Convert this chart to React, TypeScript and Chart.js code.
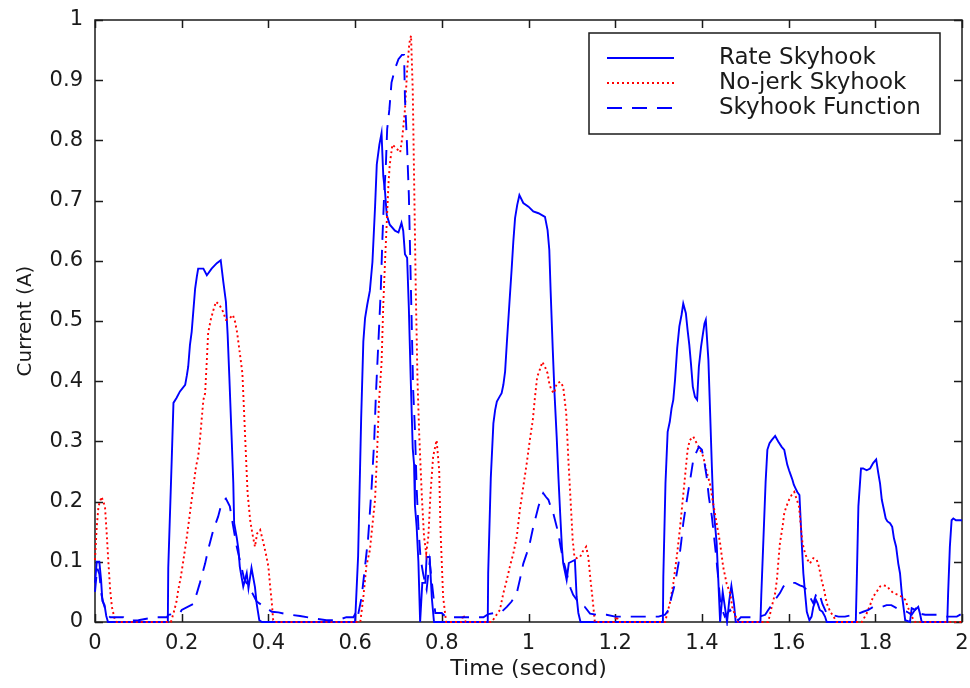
import React, { useEffect, useRef } from 'react';
import { Chart, registerables } from 'chart.js';

Chart.register(...registerables);

// ---- data: [time (s), current (A)] ----
const rateSkyhook: [number, number][] = [
  [0, 0.065], [0.004, 0.1], [0.01, 0.1], [0.014, 0.07], [0.017, 0.035], [0.022, 0.028], [0.026, 0.01], [0.03, 0],
  [0.168, 0], [0.169, 0.09], [0.177, 0.27], [0.181, 0.364], [0.188, 0.372], [0.196, 0.383], [0.208, 0.394],
  [0.212, 0.41], [0.215, 0.424], [0.219, 0.46], [0.223, 0.482], [0.227, 0.518], [0.231, 0.554], [0.235, 0.574],
  [0.238, 0.587], [0.25, 0.587], [0.258, 0.576], [0.269, 0.587], [0.281, 0.596], [0.29, 0.601], [0.296, 0.565],
  [0.302, 0.532], [0.306, 0.477], [0.31, 0.405], [0.315, 0.31], [0.319, 0.231], [0.321, 0.164], [0.327, 0.14],
  [0.331, 0.12], [0.334, 0.092], [0.338, 0.075], [0.342, 0.059], [0.35, 0.081], [0.354, 0.056], [0.361, 0.09],
  [0.369, 0.058], [0.373, 0.03], [0.379, 0.003], [0.385, 0],
  [0.6, 0], [0.607, 0.11], [0.614, 0.339], [0.619, 0.466], [0.623, 0.505], [0.628, 0.527], [0.634, 0.55],
  [0.64, 0.598], [0.646, 0.689], [0.65, 0.76], [0.656, 0.793], [0.661, 0.812], [0.665, 0.741], [0.669, 0.715],
  [0.673, 0.676], [0.68, 0.66], [0.692, 0.65], [0.7, 0.647], [0.707, 0.663], [0.711, 0.65], [0.715, 0.611],
  [0.72, 0.605], [0.724, 0.521], [0.728, 0.411], [0.733, 0.288], [0.736, 0.262], [0.738, 0.194], [0.742, 0.158],
  [0.746, 0.1], [0.75, 0], [0.755, 0.065], [0.762, 0.065], [0.765, 0.108], [0.772, 0.108], [0.777, 0.04], [0.782, 0],
  [0.906, 0], [0.907, 0.081], [0.913, 0.239], [0.919, 0.33], [0.923, 0.352], [0.927, 0.366], [0.933, 0.374],
  [0.938, 0.38], [0.942, 0.394], [0.946, 0.416], [0.95, 0.463], [0.956, 0.53], [0.961, 0.585], [0.965, 0.632],
  [0.969, 0.671], [0.974, 0.693], [0.979, 0.709], [0.988, 0.696], [1.0, 0.69], [1.011, 0.682], [1.023, 0.679],
  [1.038, 0.673], [1.044, 0.651], [1.048, 0.618], [1.051, 0.551], [1.056, 0.452], [1.06, 0.38], [1.065, 0.308],
  [1.069, 0.241], [1.073, 0.181], [1.077, 0.125], [1.08, 0.098], [1.088, 0.07], [1.093, 0.098], [1.107, 0.103],
  [1.111, 0.042], [1.115, 0.015], [1.12, 0],
  [1.31, 0], [1.311, 0.075], [1.316, 0.231], [1.321, 0.316], [1.326, 0.333], [1.33, 0.355], [1.334, 0.369],
  [1.338, 0.402], [1.343, 0.455], [1.348, 0.491], [1.353, 0.51], [1.357, 0.529], [1.363, 0.513], [1.367, 0.485],
  [1.371, 0.46], [1.375, 0.427], [1.379, 0.391], [1.384, 0.374], [1.389, 0.369], [1.393, 0.424], [1.398, 0.457],
  [1.402, 0.477], [1.406, 0.496], [1.409, 0.502], [1.415, 0.435], [1.419, 0.347], [1.423, 0.258], [1.426, 0.197],
  [1.43, 0.164], [1.434, 0.131], [1.438, 0.067], [1.442, 0], [1.448, 0.05], [1.452, 0.03], [1.458, 0],
  [1.463, 0.035], [1.468, 0.06], [1.474, 0.03], [1.478, 0],
  [1.535, 0], [1.537, 0.045], [1.542, 0.139], [1.547, 0.233], [1.551, 0.286], [1.556, 0.297], [1.561, 0.302],
  [1.569, 0.309], [1.576, 0.3], [1.584, 0.291], [1.59, 0.286], [1.593, 0.275], [1.597, 0.261], [1.601, 0.252],
  [1.605, 0.244], [1.609, 0.236], [1.612, 0.228], [1.616, 0.222], [1.62, 0.216], [1.625, 0.211], [1.63, 0.136],
  [1.634, 0.081], [1.638, 0.048], [1.642, 0.017], [1.648, 0.003], [1.653, 0.009], [1.657, 0.025], [1.663, 0.037],
  [1.667, 0.031], [1.672, 0.02], [1.678, 0.017], [1.684, 0.009], [1.688, 0],
  [1.755, 0], [1.757, 0.061], [1.761, 0.192], [1.767, 0.255], [1.772, 0.255], [1.78, 0.252], [1.788, 0.255],
  [1.795, 0.264], [1.802, 0.27], [1.807, 0.247], [1.811, 0.23], [1.815, 0.203], [1.82, 0.186], [1.824, 0.172],
  [1.828, 0.167], [1.834, 0.164], [1.839, 0.158], [1.843, 0.139], [1.848, 0.125], [1.853, 0.097], [1.857, 0.081],
  [1.861, 0.048], [1.865, 0.025], [1.869, 0.003], [1.88, 0], [1.884, 0.023], [1.892, 0.02], [1.899, 0.025],
  [1.903, 0.014], [1.907, 0],
  [1.966, 0], [1.968, 0.048], [1.972, 0.125], [1.976, 0.169], [1.98, 0.172], [1.986, 0.169], [2.0, 0.169],
];

const noJerkSkyhook: [number, number][] = [
  [0, 0.103], [0.004, 0.158], [0.008, 0.192], [0.015, 0.208], [0.023, 0.192], [0.027, 0.147], [0.031, 0.098],
  [0.035, 0.053], [0.039, 0.025], [0.046, 0.003], [0.05, 0],
  [0.175, 0], [0.181, 0.014], [0.188, 0.034], [0.192, 0.053], [0.198, 0.075], [0.204, 0.103], [0.212, 0.142],
  [0.219, 0.181], [0.227, 0.225], [0.233, 0.258], [0.238, 0.275], [0.242, 0.302], [0.246, 0.336], [0.25, 0.369],
  [0.254, 0.38], [0.258, 0.435], [0.261, 0.48], [0.267, 0.502], [0.273, 0.518], [0.279, 0.532], [0.287, 0.527],
  [0.295, 0.516], [0.302, 0.502], [0.31, 0.504], [0.318, 0.51], [0.323, 0.499], [0.328, 0.48], [0.334, 0.447],
  [0.34, 0.413], [0.344, 0.347], [0.348, 0.28], [0.352, 0.214], [0.358, 0.169], [0.363, 0.147], [0.369, 0.125],
  [0.374, 0.147], [0.381, 0.153], [0.387, 0.136], [0.394, 0.114], [0.4, 0.092], [0.404, 0.059], [0.408, 0.031],
  [0.411, 0.003], [0.415, 0],
  [0.612, 0], [0.619, 0.041], [0.626, 0.093], [0.634, 0.119], [0.646, 0.203], [0.65, 0.268], [0.655, 0.365],
  [0.661, 0.43], [0.665, 0.527], [0.669, 0.598], [0.673, 0.663], [0.677, 0.728], [0.68, 0.76], [0.686, 0.793],
  [0.696, 0.786], [0.704, 0.78], [0.709, 0.806], [0.715, 0.851], [0.72, 0.916], [0.725, 0.961], [0.729, 0.974],
  [0.733, 0.883], [0.736, 0.741], [0.74, 0.55], [0.744, 0.4], [0.748, 0.31], [0.75, 0.275], [0.754, 0.208],
  [0.759, 0.142], [0.764, 0.114], [0.769, 0.142], [0.774, 0.214], [0.78, 0.275], [0.788, 0.302], [0.794, 0.252],
  [0.797, 0.153], [0.803, 0.042], [0.81, 0],
  [0.845, 0], [0.85, 0.012], [0.855, 0],
  [0.915, 0], [0.934, 0.02], [0.942, 0.048], [0.95, 0.07], [0.957, 0.092], [0.965, 0.114], [0.973, 0.142],
  [0.98, 0.186], [0.988, 0.225], [0.996, 0.264], [1.003, 0.302], [1.01, 0.336], [1.015, 0.374], [1.02, 0.407],
  [1.027, 0.421], [1.032, 0.432], [1.038, 0.424], [1.044, 0.413], [1.048, 0.396], [1.053, 0.385], [1.059, 0.38],
  [1.065, 0.396], [1.073, 0.399], [1.08, 0.391], [1.087, 0.347], [1.092, 0.269], [1.097, 0.203], [1.102, 0.136],
  [1.106, 0.108], [1.111, 0.106], [1.119, 0.108], [1.125, 0.117], [1.133, 0.125], [1.138, 0.108], [1.143, 0.07],
  [1.148, 0.037], [1.153, 0],
  [1.198, 0], [1.203, 0.01], [1.208, 0],
  [1.315, 0], [1.326, 0.031], [1.334, 0.064], [1.342, 0.108], [1.349, 0.153], [1.355, 0.197], [1.361, 0.241],
  [1.367, 0.286], [1.372, 0.302], [1.38, 0.308], [1.388, 0.297], [1.396, 0.286], [1.403, 0.275], [1.411, 0.25],
  [1.419, 0.228], [1.426, 0.197], [1.434, 0.164], [1.442, 0.131], [1.449, 0.092], [1.457, 0.064], [1.465, 0.048],
  [1.47, 0.025], [1.476, 0.012], [1.484, 0],
  [1.553, 0], [1.561, 0.025], [1.569, 0.048], [1.573, 0.07], [1.576, 0.097], [1.58, 0.131], [1.586, 0.158],
  [1.59, 0.181], [1.595, 0.192], [1.601, 0.203], [1.607, 0.211], [1.613, 0.216], [1.619, 0.203], [1.624, 0.192],
  [1.629, 0.153], [1.632, 0.131], [1.638, 0.114], [1.644, 0.103], [1.649, 0.097], [1.657, 0.106], [1.665, 0.103],
  [1.67, 0.092], [1.676, 0.07], [1.682, 0.053], [1.688, 0.031], [1.696, 0.017], [1.701, 0.012], [1.711, 0],
  [1.769, 0], [1.78, 0.014], [1.788, 0.028], [1.795, 0.042], [1.803, 0.05], [1.811, 0.059], [1.819, 0.061],
  [1.828, 0.059], [1.834, 0.053], [1.842, 0.048], [1.853, 0.045], [1.861, 0.042], [1.869, 0.037], [1.876, 0.023],
  [1.884, 0.009], [1.892, 0], [2.0, 0],
];

const skyhookFunction: [number, number][] = [
  [0, 0.05], [0.005, 0.09], [0.01, 0.08], [0.015, 0.045], [0.02, 0.03], [0.028, 0.012], [0.035, 0.008],
  [0.065, 0.008], [0.08, 0.002], [0.1, 0.003], [0.14, 0.008], [0.166, 0.008], [0.169, 0.012], [0.196, 0.015],
  [0.2, 0.02], [0.227, 0.03], [0.235, 0.048], [0.242, 0.065], [0.254, 0.097], [0.261, 0.12], [0.273, 0.153],
  [0.284, 0.175], [0.292, 0.197], [0.302, 0.205], [0.311, 0.192], [0.319, 0.158], [0.327, 0.125], [0.336, 0.097],
  [0.344, 0.072], [0.354, 0.059], [0.363, 0.048], [0.373, 0.034], [0.385, 0.028], [0.396, 0.023], [0.408, 0.017],
  [0.423, 0.016], [0.442, 0.013], [0.473, 0.01], [0.504, 0.006], [0.534, 0.003], [0.56, 0.003], [0.58, 0.008],
  [0.596, 0.008], [0.6, 0.013], [0.605, 0.005], [0.615, 0.041], [0.623, 0.093], [0.63, 0.139], [0.638, 0.223],
  [0.644, 0.3], [0.648, 0.378], [0.654, 0.469], [0.659, 0.547], [0.663, 0.637], [0.667, 0.709], [0.671, 0.76],
  [0.674, 0.819], [0.679, 0.851], [0.684, 0.896], [0.692, 0.919], [0.7, 0.935], [0.708, 0.942], [0.713, 0.942],
  [0.715, 0.87], [0.719, 0.806], [0.724, 0.709], [0.727, 0.611], [0.731, 0.482], [0.734, 0.385], [0.738, 0.32],
  [0.742, 0.223], [0.746, 0.158], [0.751, 0.106], [0.757, 0.08], [0.765, 0.054], [0.772, 0.1], [0.778, 0.06],
  [0.785, 0.015], [0.8, 0.015], [0.81, 0.008], [0.896, 0.008], [0.907, 0.013], [0.938, 0.017], [0.95, 0.025],
  [0.961, 0.034], [0.973, 0.048], [0.98, 0.07], [0.988, 0.097], [0.996, 0.114], [1.003, 0.131], [1.011, 0.158],
  [1.017, 0.175], [1.023, 0.192], [1.028, 0.203], [1.034, 0.214], [1.04, 0.208], [1.046, 0.203], [1.051, 0.192],
  [1.057, 0.181], [1.063, 0.164], [1.069, 0.147], [1.074, 0.125], [1.08, 0.103], [1.087, 0.084], [1.092, 0.07],
  [1.097, 0.056], [1.103, 0.045], [1.111, 0.037], [1.12, 0.028], [1.13, 0.025], [1.142, 0.014], [1.157, 0.012],
  [1.18, 0.012], [1.2, 0.009], [1.3, 0.009], [1.315, 0.012], [1.323, 0.02], [1.33, 0.042], [1.338, 0.064],
  [1.346, 0.097], [1.352, 0.131], [1.357, 0.164], [1.363, 0.192], [1.369, 0.219], [1.374, 0.241], [1.38, 0.269],
  [1.386, 0.28], [1.393, 0.291], [1.4, 0.286], [1.406, 0.264], [1.411, 0.241], [1.416, 0.208], [1.423, 0.175],
  [1.428, 0.142], [1.433, 0.108], [1.438, 0.07], [1.442, 0.037], [1.447, 0.02], [1.453, 0.009], [1.465, 0.02],
  [1.472, 0.012], [1.484, 0.003], [1.49, 0.008], [1.53, 0.008], [1.546, 0.012], [1.553, 0.02], [1.561, 0.028],
  [1.569, 0.037], [1.58, 0.048], [1.588, 0.059], [1.595, 0.064], [1.603, 0.065], [1.615, 0.065], [1.626, 0.061],
  [1.634, 0.059], [1.642, 0.053], [1.649, 0.042], [1.657, 0.031], [1.663, 0.045], [1.67, 0.05], [1.678, 0.03],
  [1.688, 0.014], [1.699, 0.012], [1.715, 0.009], [1.73, 0.009], [1.761, 0.014], [1.772, 0.017], [1.784, 0.02],
  [1.795, 0.025], [1.815, 0.025], [1.826, 0.028], [1.837, 0.028], [1.849, 0.023], [1.861, 0.02], [1.873, 0.017],
  [1.884, 0.012], [1.896, 0.025], [1.903, 0.014], [1.915, 0.012], [1.945, 0.012], [1.965, 0.009], [1.988, 0.009],
  [2.0, 0.014],
];

const seriesLabels = ['Rate Skyhook', 'No-jerk Skyhook', 'Skyhook Function'];
const xTickStep = 0.2;
const yTickStep = 0.1;

const FONT = '"DejaVu Sans", Arial, sans-serif';
const INK = '#1a1a1a';

const toPoints = (arr: [number, number][]) => arr.map(([x, y]) => ({ x, y }));
const fmt = (v: number) => String(Math.round(v * 10) / 10);

const framePlugin = {
  id: 'matlabFrame',
  beforeDatasetsDraw(chart: any) {
    const { ctx, chartArea, scales } = chart;
    const { left, right, top, bottom } = chartArea;
    const len = 8;
    ctx.save();
    ctx.strokeStyle = INK;
    ctx.lineWidth = 1.5;
    ctx.strokeRect(left, top, right - left, bottom - top);
    ctx.beginPath();
    scales.x.ticks.forEach((t: any) => {
      const px = Math.round(scales.x.getPixelForValue(t.value)) + 0.5;
      ctx.moveTo(px, bottom); ctx.lineTo(px, bottom - len);
      ctx.moveTo(px, top); ctx.lineTo(px, top + len);
    });
    scales.y.ticks.forEach((t: any) => {
      const py = Math.round(scales.y.getPixelForValue(t.value)) + 0.5;
      ctx.moveTo(left, py); ctx.lineTo(left + len, py);
      ctx.moveTo(right, py); ctx.lineTo(right - len, py);
    });
    ctx.stroke();
    ctx.restore();
  },
};

const legendPlugin = {
  id: 'boxLegend',
  afterDraw(chart: any) {
    const { ctx, chartArea } = chart;
    const w = 351, h = 101;
    const x0 = chartArea.right - 22 - w;
    const y0 = chartArea.top + 13;
    ctx.save();
    ctx.fillStyle = '#fff';
    ctx.fillRect(x0, y0, w, h);
    ctx.strokeStyle = INK;
    ctx.lineWidth = 1.5;
    ctx.strokeRect(x0, y0, w, h);
    ctx.font = `23px ${FONT}`;
    ctx.textBaseline = 'middle';
    ctx.textAlign = 'left';
    chart.data.datasets.forEach((ds: any, i: number) => {
      const cy = y0 + 25 + i * 25;
      ctx.beginPath();
      ctx.strokeStyle = ds.borderColor;
      ctx.lineWidth = ds.borderWidth;
      ctx.setLineDash(ds.borderDash || []);
      ctx.moveTo(x0 + 18, cy);
      ctx.lineTo(x0 + 85, cy);
      ctx.stroke();
      ctx.setLineDash([]);
      ctx.fillStyle = INK;
      ctx.fillText(ds.label, x0 + 130, cy);
    });
    ctx.restore();
  },
};

export default function App() {
  const ref = useRef<HTMLCanvasElement>(null);
  useEffect(() => {
    const chart = new Chart(ref.current as HTMLCanvasElement, {
      type: 'line',
      data: {
        datasets: [
          {
            label: seriesLabels[0],
            data: toPoints(rateSkyhook),
            borderColor: '#0000ff',
            borderWidth: 1.9,
            pointRadius: 0,
            tension: 0,
            clip: 4,
            order: 3,
          },
          {
            label: seriesLabels[1],
            data: toPoints(noJerkSkyhook),
            borderColor: '#ff0000',
            borderWidth: 1.9,
            borderDash: [2, 3],
            pointRadius: 0,
            tension: 0,
            clip: 4,
            order: 2,
          },
          {
            label: seriesLabels[2],
            data: toPoints(skyhookFunction),
            borderColor: '#0000ff',
            borderWidth: 1.9,
            borderDash: [15, 10],
            pointRadius: 0,
            tension: 0,
            clip: 4,
            order: 1,
          },
        ] as any,
      },
      options: {
        responsive: false,
        animation: false,
        layout: { padding: { top: 20, right: 8, left: 0, bottom: 0 } },
        plugins: { legend: { display: false }, tooltip: { enabled: false } },
        scales: {
          x: {
            type: 'linear',
            min: 0,
            max: 2,
            grid: { display: false, drawTicks: false },
            border: { display: false },
            ticks: {
              stepSize: xTickStep,
              padding: 9,
              color: INK,
              font: { family: FONT, size: 21 },
              callback: (v: any) => fmt(Number(v)),
              maxRotation: 0,
            },
            title: {
              display: true,
              text: 'Time (second)',
              color: INK,
              font: { family: FONT, size: 22 },
              padding: { top: 0, bottom: 6 },
            },
            afterFit: (s: any) => { s.height = 66; s.paddingLeft = 0; s.paddingRight = 0; },
          },
          y: {
            type: 'linear',
            min: 0,
            max: 1,
            grid: { display: false, drawTicks: false },
            border: { display: false },
            ticks: {
              stepSize: yTickStep,
              padding: 12,
              color: INK,
              font: { family: FONT, size: 21 },
              callback: (v: any) => fmt(Number(v)),
            },
            title: {
              display: true,
              text: 'Current (A)',
              color: INK,
              font: { family: FONT, size: 20 },
              padding: { top: 14, bottom: 0 },
            },
            afterFit: (s: any) => { s.width = 95; s.paddingTop = 0; s.paddingBottom = 0; },
          },
        },
      } as any,
      plugins: [framePlugin, legendPlugin],
    });
    return () => chart.destroy();
  }, []);
  return (
    <div style={{ position: 'fixed', left: 0, top: 0, width: 970, height: 688, background: '#fff' }}>
      <canvas ref={ref} width={970} height={688} style={{ width: 970, height: 688, display: 'block' }} />
    </div>
  );
}
